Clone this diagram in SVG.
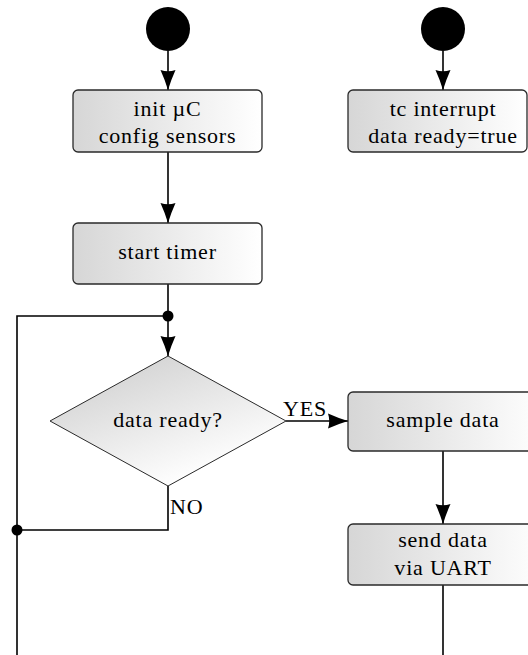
<svg xmlns="http://www.w3.org/2000/svg" width="528" height="655" viewBox="0 0 528 655">
  <defs>
    <linearGradient id="boxGrad" x1="0" y1="0" x2="1" y2="0">
      <stop offset="0" stop-color="#d6d6d6"/>
      <stop offset="1" stop-color="#ffffff"/>
    </linearGradient>
    <linearGradient id="diaGrad" x1="0.25" y1="0.1" x2="0.75" y2="0.85">
      <stop offset="0" stop-color="#d4d4d4"/>
      <stop offset="1" stop-color="#ffffff"/>
    </linearGradient>
    <marker id="arrow" markerUnits="userSpaceOnUse" markerWidth="20" markerHeight="16" viewBox="0 0 20 16" refX="20" refY="8" orient="auto">
      <path d="M20,8 Q10,5 0,0.5 Q2.5,8 0,15.5 Q10,11 20,8 Z" fill="#000"/>
    </marker>
  </defs>
  <style>
    .box { fill: url(#boxGrad); stroke: #2a2a2a; stroke-width: 1.3; }
    .dia { fill: url(#diaGrad); stroke: #2a2a2a; stroke-width: 1; }
    .start { fill: #000; }
    .dot { fill: #000; }
    .conn { fill: none; stroke: #000; stroke-width: 1.6; }
    .arr { marker-end: url(#arrow); }
    text { font-family: "Liberation Serif", "Times New Roman", serif; font-size: 22px; fill: #000; letter-spacing: 0.8px; }
    .c { text-anchor: middle; }
  </style>

  <g id="connectors">
    <path class="conn arr" d="M168,51 V90"/>
    <path class="conn arr" d="M443,51 V90"/>
    <path class="conn arr" d="M168,152 V223"/>
    <path class="conn arr" d="M168,284 V356"/>
    <path class="conn" d="M168,316 H17 V655"/>
    <path class="conn arr" d="M286,421 H348"/>
    <path class="conn" d="M168,486 V530 H17"/>
    <path class="conn arr" d="M443,451 V524"/>
    <path class="conn" d="M443,585 V655"/>
    <circle class="dot" cx="168" cy="316" r="5.5"/>
    <circle class="dot" cx="17" cy="530" r="5.5"/>
    <text x="283" y="416">YES</text>
    <text x="170" y="514">NO</text>
  </g>

  <g id="start1">
    <circle class="start" cx="168" cy="29" r="22"/>
  </g>
  <g id="start2">
    <circle class="start" cx="443" cy="29" r="22"/>
  </g>

  <g id="init">
    <rect class="box" x="73" y="90" width="189" height="62" rx="5"/>
    <text class="c" x="167.5" y="116">init µC</text>
    <text class="c" x="167.5" y="142.5">config sensors</text>
  </g>

  <g id="interrupt">
    <rect class="box" x="348" y="90" width="179" height="62" rx="5"/>
    <text class="c" x="443" y="116">tc interrupt</text>
    <text class="c" x="443" y="142.5">data ready=true</text>
  </g>

  <g id="timer">
    <rect class="box" x="73" y="223" width="189" height="61" rx="5"/>
    <text class="c" x="167.5" y="259">start timer</text>
  </g>

  <g id="decision">
    <polygon class="dia" points="168,356 286,421 168,486 50,421"/>
    <text class="c" x="168" y="427">data ready?</text>
  </g>

  <g id="sample">
    <rect class="box" x="348" y="392" width="196" height="59" rx="5"/>
    <text class="c" x="443" y="427">sample data</text>
  </g>

  <g id="send">
    <rect class="box" x="348" y="524" width="196" height="61" rx="5"/>
    <text class="c" x="443" y="547">send data</text>
    <text class="c" x="443" y="575">via UART</text>
  </g>
</svg>
